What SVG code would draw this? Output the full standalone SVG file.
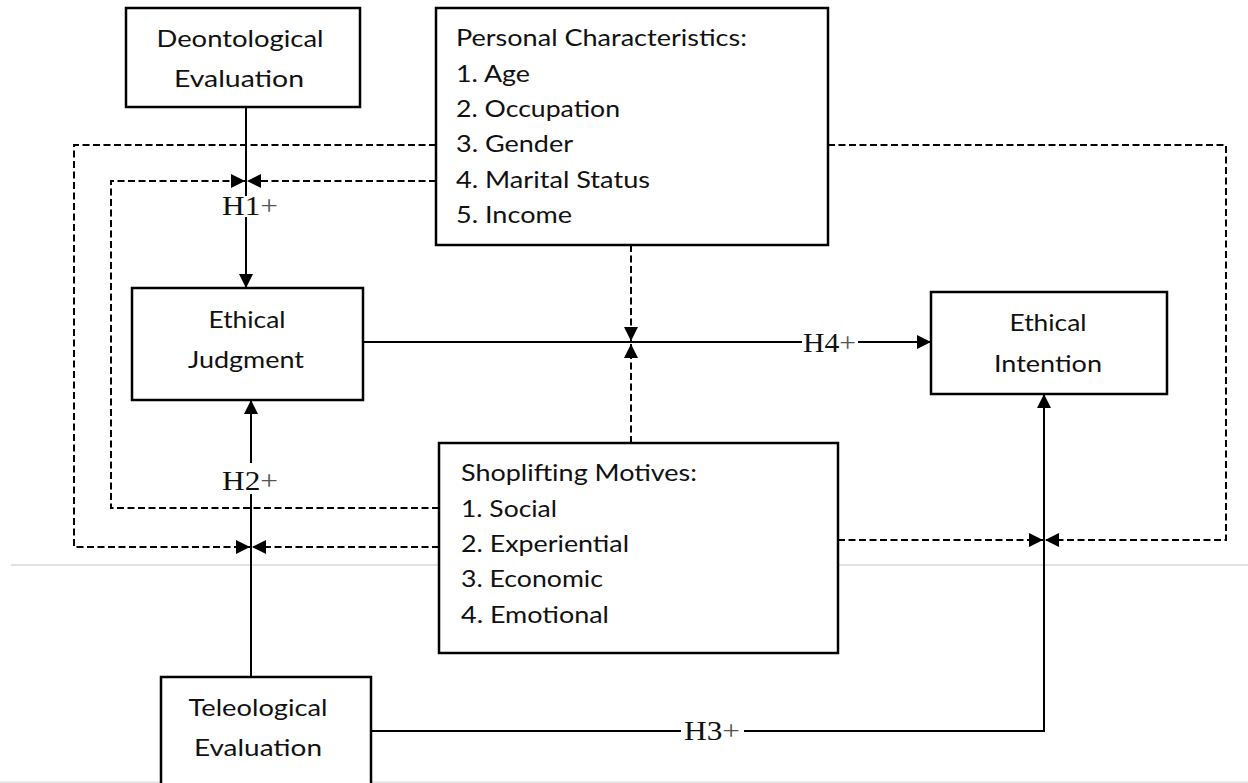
<svg xmlns="http://www.w3.org/2000/svg" width="1248" height="783" viewBox="0 0 1248 783">
<style>
.box{fill:#fff;stroke:#000;stroke-width:2.5}
.t{font-family:Lato,"Liberation Sans",sans-serif;font-size:23px;fill:#111}
.c{text-anchor:middle}
.h{font-family:"Liberation Serif",serif;font-size:27px;fill:#111}
.p{fill:#555}
.s{fill:none;stroke:#000;stroke-width:2}
.d{fill:none;stroke:#000;stroke-width:2;stroke-dasharray:7,3.5}
.g{stroke:#c4c4c4;stroke-width:1.2}
</style>
<defs>
<marker id="ah" viewBox="0 0 14 14" refX="14" refY="7" markerWidth="14" markerHeight="14" markerUnits="userSpaceOnUse" orient="auto">
<path d="M0,0 L14,7 L0,14 z" fill="#000"/>
</marker>
</defs>
<rect width="1248" height="783" fill="#fff"/>
<line class="g" x1="11" y1="565" x2="1248" y2="565"/>
<line x1="0" y1="782" x2="1248" y2="782" stroke="#e4e4e4" stroke-width="1.5"/>
<g id="connectors">
<line class="s" x1="246" y1="107" x2="246" y2="196"/>
<line class="s" x1="246" y1="217" x2="246" y2="288" marker-end="url(#ah)"/>
<line class="s" x1="251" y1="677" x2="251" y2="494"/>
<line class="s" x1="251" y1="463" x2="251" y2="400" marker-end="url(#ah)"/>
<line class="s" x1="363" y1="342" x2="802" y2="342"/>
<line class="s" x1="858" y1="342" x2="931" y2="342" marker-end="url(#ah)"/>
<line class="s" x1="371" y1="731" x2="681" y2="731"/>
<polyline class="s" points="744,731 1044,731 1044,394" marker-end="url(#ah)"/>
<polyline class="d" points="436,181 247,181" marker-end="url(#ah)"/>
<polyline class="d" points="439,508 111,508 111,181 245,181" marker-end="url(#ah)"/>
<polyline class="d" points="436,145 74,145 74,547 250,547" marker-end="url(#ah)"/>
<polyline class="d" points="439,547 252,547" marker-end="url(#ah)"/>
<polyline class="d" points="828,145 1226,145 1226,540 1045,540" marker-end="url(#ah)"/>
<polyline class="d" points="838,540 1043,540" marker-end="url(#ah)"/>
<line class="d" x1="631" y1="245" x2="631" y2="341" marker-end="url(#ah)"/>
<line class="d" x1="631" y1="443" x2="631" y2="344" marker-end="url(#ah)"/>
<text class="h" x="222" y="215" textLength="56" lengthAdjust="spacingAndGlyphs">H1<tspan class="p">+</tspan></text>
<text class="h" x="222" y="490" textLength="56" lengthAdjust="spacingAndGlyphs">H2<tspan class="p">+</tspan></text>
<text class="h" x="803" y="352" textLength="53" lengthAdjust="spacingAndGlyphs">H4<tspan class="p">+</tspan></text>
<text class="h" x="684" y="740" textLength="56" lengthAdjust="spacingAndGlyphs">H3<tspan class="p">+</tspan></text>
</g>
<g id="deontological">
<rect class="box" x="126" y="8" width="234" height="99"/>
<text class="t c" x="240" y="47" textLength="167" lengthAdjust="spacingAndGlyphs">Deontological</text>
<text class="t c" x="239" y="87" textLength="130" lengthAdjust="spacingAndGlyphs">Evaluation</text>
</g>
<g id="personal">
<rect class="box" x="436" y="8" width="392" height="237"/>
<text class="t" x="456" y="46" textLength="291" lengthAdjust="spacingAndGlyphs">Personal Characteristics:</text>
<text class="t" x="456" y="82" textLength="74" lengthAdjust="spacingAndGlyphs">1. Age</text>
<text class="t" x="456" y="117" textLength="164" lengthAdjust="spacingAndGlyphs">2. Occupation</text>
<text class="t" x="456" y="152" textLength="117" lengthAdjust="spacingAndGlyphs">3. Gender</text>
<text class="t" x="456" y="188" textLength="194" lengthAdjust="spacingAndGlyphs">4. Marital Status</text>
<text class="t" x="456" y="223" textLength="116" lengthAdjust="spacingAndGlyphs">5. Income</text>
</g>
<g id="judgment">
<rect class="box" x="132" y="288" width="231" height="112"/>
<text class="t c" x="247" y="328" textLength="77" lengthAdjust="spacingAndGlyphs">Ethical</text>
<text class="t c" x="246" y="368" textLength="116" lengthAdjust="spacingAndGlyphs">Judgment</text>
</g>
<g id="intention">
<rect class="box" x="931" y="292" width="236" height="102"/>
<text class="t c" x="1048" y="331" textLength="77" lengthAdjust="spacingAndGlyphs">Ethical</text>
<text class="t c" x="1048" y="372" textLength="108" lengthAdjust="spacingAndGlyphs">Intention</text>
</g>
<g id="motives">
<rect class="box" x="439" y="443" width="399" height="210"/>
<text class="t" x="461" y="481" textLength="236" lengthAdjust="spacingAndGlyphs">Shoplifting Motives:</text>
<text class="t" x="461" y="517" textLength="96" lengthAdjust="spacingAndGlyphs">1. Social</text>
<text class="t" x="461" y="552" textLength="168" lengthAdjust="spacingAndGlyphs">2. Experiential</text>
<text class="t" x="461" y="587" textLength="142" lengthAdjust="spacingAndGlyphs">3. Economic</text>
<text class="t" x="461" y="623" textLength="148" lengthAdjust="spacingAndGlyphs">4. Emotional</text>
</g>
<g id="teleological">
<rect class="box" x="161" y="677" width="210" height="130"/>
<text class="t c" x="258" y="716" textLength="139" lengthAdjust="spacingAndGlyphs">Teleological</text>
<text class="t c" x="258" y="756" textLength="128" lengthAdjust="spacingAndGlyphs">Evaluation</text>
</g>
</svg>
